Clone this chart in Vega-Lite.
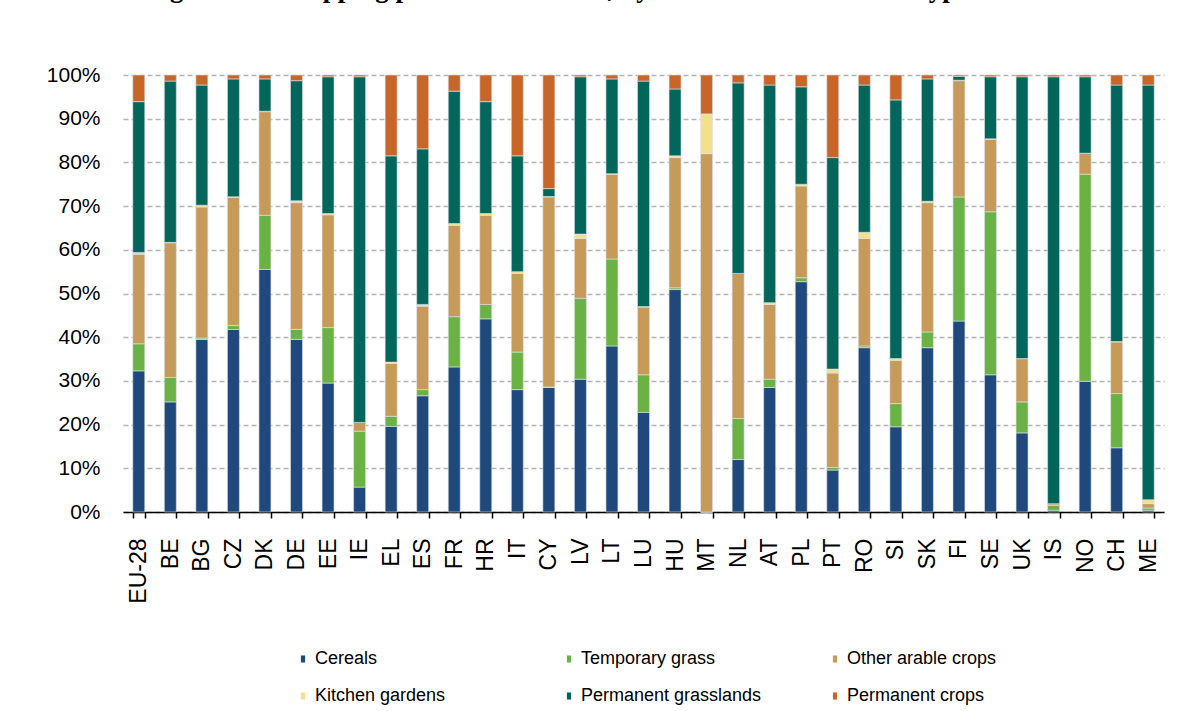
{
  "$schema": "https://vega.github.io/schema/vega-lite/v6.json",
  "autosize": {"type": "none"},
  "width": 1041,
  "height": 437,
  "padding": {"left": 123, "top": 75, "right": 24, "bottom": 199},
  "background": "white",
  "title": {
    "text": "Figure 2.9: Cropping patterns in the EU, by the main land use unit type",
    "anchor": "start",
    "frame": "group",
    "baseline": "alphabetic",
    "offset": 40,
    "dx": 23,
    "font": "Liberation Serif",
    "fontSize": 27,
    "fontWeight": "bold",
    "color": "black"
  },
  "data": {
    "values": [
      {"c":"EU-28","t":"Cereals","o":1,"v":32.3},{"c":"EU-28","t":"Temporary grass","o":2,"v":6.2},{"c":"EU-28","t":"Other arable crops","o":3,"v":20.5},{"c":"EU-28","t":"Kitchen gardens","o":4,"v":0.4},{"c":"EU-28","t":"Permanent grasslands","o":5,"v":34.5},{"c":"EU-28","t":"Permanent crops","o":6,"v":6.1},
      {"c":"BE","t":"Cereals","o":1,"v":25.2},{"c":"BE","t":"Temporary grass","o":2,"v":5.6},{"c":"BE","t":"Other arable crops","o":3,"v":30.8},{"c":"BE","t":"Kitchen gardens","o":4,"v":0.1},{"c":"BE","t":"Permanent grasslands","o":5,"v":36.9},{"c":"BE","t":"Permanent crops","o":6,"v":1.4},
      {"c":"BG","t":"Cereals","o":1,"v":39.5},{"c":"BG","t":"Temporary grass","o":2,"v":0.3},{"c":"BG","t":"Other arable crops","o":3,"v":30.0},{"c":"BG","t":"Kitchen gardens","o":4,"v":0.4},{"c":"BG","t":"Permanent grasslands","o":5,"v":27.5},{"c":"BG","t":"Permanent crops","o":6,"v":2.3},
      {"c":"CZ","t":"Cereals","o":1,"v":41.8},{"c":"CZ","t":"Temporary grass","o":2,"v":0.9},{"c":"CZ","t":"Other arable crops","o":3,"v":29.4},{"c":"CZ","t":"Kitchen gardens","o":4,"v":0.1},{"c":"CZ","t":"Permanent grasslands","o":5,"v":27.0},{"c":"CZ","t":"Permanent crops","o":6,"v":0.9},
      {"c":"DK","t":"Cereals","o":1,"v":55.5},{"c":"DK","t":"Temporary grass","o":2,"v":12.4},{"c":"DK","t":"Other arable crops","o":3,"v":23.7},{"c":"DK","t":"Kitchen gardens","o":4,"v":0.1},{"c":"DK","t":"Permanent grasslands","o":5,"v":7.4},{"c":"DK","t":"Permanent crops","o":6,"v":0.9},
      {"c":"DE","t":"Cereals","o":1,"v":39.5},{"c":"DE","t":"Temporary grass","o":2,"v":2.3},{"c":"DE","t":"Other arable crops","o":3,"v":29.0},{"c":"DE","t":"Kitchen gardens","o":4,"v":0.4},{"c":"DE","t":"Permanent grasslands","o":5,"v":27.5},{"c":"DE","t":"Permanent crops","o":6,"v":1.3},
      {"c":"EE","t":"Cereals","o":1,"v":29.5},{"c":"EE","t":"Temporary grass","o":2,"v":12.7},{"c":"EE","t":"Other arable crops","o":3,"v":25.8},{"c":"EE","t":"Kitchen gardens","o":4,"v":0.3},{"c":"EE","t":"Permanent grasslands","o":5,"v":31.3},{"c":"EE","t":"Permanent crops","o":6,"v":0.4},
      {"c":"IE","t":"Cereals","o":1,"v":5.7},{"c":"IE","t":"Temporary grass","o":2,"v":12.8},{"c":"IE","t":"Other arable crops","o":3,"v":2.0},{"c":"IE","t":"Kitchen gardens","o":4,"v":0.0},{"c":"IE","t":"Permanent grasslands","o":5,"v":79.1},{"c":"IE","t":"Permanent crops","o":6,"v":0.4},
      {"c":"EL","t":"Cereals","o":1,"v":19.6},{"c":"EL","t":"Temporary grass","o":2,"v":2.3},{"c":"EL","t":"Other arable crops","o":3,"v":12.1},{"c":"EL","t":"Kitchen gardens","o":4,"v":0.3},{"c":"EL","t":"Permanent grasslands","o":5,"v":47.2},{"c":"EL","t":"Permanent crops","o":6,"v":18.5},
      {"c":"ES","t":"Cereals","o":1,"v":26.6},{"c":"ES","t":"Temporary grass","o":2,"v":1.4},{"c":"ES","t":"Other arable crops","o":3,"v":19.1},{"c":"ES","t":"Kitchen gardens","o":4,"v":0.4},{"c":"ES","t":"Permanent grasslands","o":5,"v":35.6},{"c":"ES","t":"Permanent crops","o":6,"v":16.9},
      {"c":"FR","t":"Cereals","o":1,"v":33.2},{"c":"FR","t":"Temporary grass","o":2,"v":11.5},{"c":"FR","t":"Other arable crops","o":3,"v":20.9},{"c":"FR","t":"Kitchen gardens","o":4,"v":0.4},{"c":"FR","t":"Permanent grasslands","o":5,"v":30.3},{"c":"FR","t":"Permanent crops","o":6,"v":3.7},
      {"c":"HR","t":"Cereals","o":1,"v":44.2},{"c":"HR","t":"Temporary grass","o":2,"v":3.3},{"c":"HR","t":"Other arable crops","o":3,"v":20.4},{"c":"HR","t":"Kitchen gardens","o":4,"v":0.4},{"c":"HR","t":"Permanent grasslands","o":5,"v":25.6},{"c":"HR","t":"Permanent crops","o":6,"v":6.1},
      {"c":"IT","t":"Cereals","o":1,"v":28.0},{"c":"IT","t":"Temporary grass","o":2,"v":8.6},{"c":"IT","t":"Other arable crops","o":3,"v":18.0},{"c":"IT","t":"Kitchen gardens","o":4,"v":0.4},{"c":"IT","t":"Permanent grasslands","o":5,"v":26.5},{"c":"IT","t":"Permanent crops","o":6,"v":18.5},
      {"c":"CY","t":"Cereals","o":1,"v":28.5},{"c":"CY","t":"Temporary grass","o":2,"v":0.1},{"c":"CY","t":"Other arable crops","o":3,"v":43.5},{"c":"CY","t":"Kitchen gardens","o":4,"v":0.1},{"c":"CY","t":"Permanent grasslands","o":5,"v":1.8},{"c":"CY","t":"Permanent crops","o":6,"v":26.0},
      {"c":"LV","t":"Cereals","o":1,"v":30.4},{"c":"LV","t":"Temporary grass","o":2,"v":18.5},{"c":"LV","t":"Other arable crops","o":3,"v":13.7},{"c":"LV","t":"Kitchen gardens","o":4,"v":1.0},{"c":"LV","t":"Permanent grasslands","o":5,"v":36.0},{"c":"LV","t":"Permanent crops","o":6,"v":0.4},
      {"c":"LT","t":"Cereals","o":1,"v":38.0},{"c":"LT","t":"Temporary grass","o":2,"v":19.9},{"c":"LT","t":"Other arable crops","o":3,"v":19.4},{"c":"LT","t":"Kitchen gardens","o":4,"v":0.1},{"c":"LT","t":"Permanent grasslands","o":5,"v":21.7},{"c":"LT","t":"Permanent crops","o":6,"v":0.9},
      {"c":"LU","t":"Cereals","o":1,"v":22.8},{"c":"LU","t":"Temporary grass","o":2,"v":8.6},{"c":"LU","t":"Other arable crops","o":3,"v":15.5},{"c":"LU","t":"Kitchen gardens","o":4,"v":0.1},{"c":"LU","t":"Permanent grasslands","o":5,"v":51.6},{"c":"LU","t":"Permanent crops","o":6,"v":1.4},
      {"c":"HU","t":"Cereals","o":1,"v":50.9},{"c":"HU","t":"Temporary grass","o":2,"v":0.4},{"c":"HU","t":"Other arable crops","o":3,"v":29.8},{"c":"HU","t":"Kitchen gardens","o":4,"v":0.4},{"c":"HU","t":"Permanent grasslands","o":5,"v":15.3},{"c":"HU","t":"Permanent crops","o":6,"v":3.2},
      {"c":"MT","t":"Cereals","o":1,"v":0.0},{"c":"MT","t":"Temporary grass","o":2,"v":0.0},{"c":"MT","t":"Other arable crops","o":3,"v":82.0},{"c":"MT","t":"Kitchen gardens","o":4,"v":9.1},{"c":"MT","t":"Permanent grasslands","o":5,"v":0.0},{"c":"MT","t":"Permanent crops","o":6,"v":8.9},
      {"c":"NL","t":"Cereals","o":1,"v":12.0},{"c":"NL","t":"Temporary grass","o":2,"v":9.4},{"c":"NL","t":"Other arable crops","o":3,"v":33.2},{"c":"NL","t":"Kitchen gardens","o":4,"v":0.0},{"c":"NL","t":"Permanent grasslands","o":5,"v":43.6},{"c":"NL","t":"Permanent crops","o":6,"v":1.8},
      {"c":"AT","t":"Cereals","o":1,"v":28.5},{"c":"AT","t":"Temporary grass","o":2,"v":1.9},{"c":"AT","t":"Other arable crops","o":3,"v":17.1},{"c":"AT","t":"Kitchen gardens","o":4,"v":0.4},{"c":"AT","t":"Permanent grasslands","o":5,"v":49.8},{"c":"AT","t":"Permanent crops","o":6,"v":2.3},
      {"c":"PL","t":"Cereals","o":1,"v":52.7},{"c":"PL","t":"Temporary grass","o":2,"v":0.9},{"c":"PL","t":"Other arable crops","o":3,"v":21.0},{"c":"PL","t":"Kitchen gardens","o":4,"v":0.4},{"c":"PL","t":"Permanent grasslands","o":5,"v":22.3},{"c":"PL","t":"Permanent crops","o":6,"v":2.7},
      {"c":"PT","t":"Cereals","o":1,"v":9.6},{"c":"PT","t":"Temporary grass","o":2,"v":0.6},{"c":"PT","t":"Other arable crops","o":3,"v":21.6},{"c":"PT","t":"Kitchen gardens","o":4,"v":0.9},{"c":"PT","t":"Permanent grasslands","o":5,"v":48.4},{"c":"PT","t":"Permanent crops","o":6,"v":18.9},
      {"c":"RO","t":"Cereals","o":1,"v":37.6},{"c":"RO","t":"Temporary grass","o":2,"v":0.4},{"c":"RO","t":"Other arable crops","o":3,"v":24.6},{"c":"RO","t":"Kitchen gardens","o":4,"v":1.4},{"c":"RO","t":"Permanent grasslands","o":5,"v":33.7},{"c":"RO","t":"Permanent crops","o":6,"v":2.3},
      {"c":"SI","t":"Cereals","o":1,"v":19.5},{"c":"SI","t":"Temporary grass","o":2,"v":5.3},{"c":"SI","t":"Other arable crops","o":3,"v":9.9},{"c":"SI","t":"Kitchen gardens","o":4,"v":0.4},{"c":"SI","t":"Permanent grasslands","o":5,"v":59.2},{"c":"SI","t":"Permanent crops","o":6,"v":5.7},
      {"c":"SK","t":"Cereals","o":1,"v":37.6},{"c":"SK","t":"Temporary grass","o":2,"v":3.6},{"c":"SK","t":"Other arable crops","o":3,"v":29.6},{"c":"SK","t":"Kitchen gardens","o":4,"v":0.3},{"c":"SK","t":"Permanent grasslands","o":5,"v":28.0},{"c":"SK","t":"Permanent crops","o":6,"v":0.9},
      {"c":"FI","t":"Cereals","o":1,"v":43.7},{"c":"FI","t":"Temporary grass","o":2,"v":28.4},{"c":"FI","t":"Other arable crops","o":3,"v":26.6},{"c":"FI","t":"Kitchen gardens","o":4,"v":0.1},{"c":"FI","t":"Permanent grasslands","o":5,"v":0.9},{"c":"FI","t":"Permanent crops","o":6,"v":0.3},
      {"c":"SE","t":"Cereals","o":1,"v":31.4},{"c":"SE","t":"Temporary grass","o":2,"v":37.3},{"c":"SE","t":"Other arable crops","o":3,"v":16.6},{"c":"SE","t":"Kitchen gardens","o":4,"v":0.1},{"c":"SE","t":"Permanent grasslands","o":5,"v":14.2},{"c":"SE","t":"Permanent crops","o":6,"v":0.4},
      {"c":"UK","t":"Cereals","o":1,"v":18.1},{"c":"UK","t":"Temporary grass","o":2,"v":7.1},{"c":"UK","t":"Other arable crops","o":3,"v":9.9},{"c":"UK","t":"Kitchen gardens","o":4,"v":0.0},{"c":"UK","t":"Permanent grasslands","o":5,"v":64.5},{"c":"UK","t":"Permanent crops","o":6,"v":0.4},
      {"c":"IS","t":"Cereals","o":1,"v":0.4},{"c":"IS","t":"Temporary grass","o":2,"v":1.1},{"c":"IS","t":"Other arable crops","o":3,"v":0.4},{"c":"IS","t":"Kitchen gardens","o":4,"v":0.0},{"c":"IS","t":"Permanent grasslands","o":5,"v":97.7},{"c":"IS","t":"Permanent crops","o":6,"v":0.4},
      {"c":"NO","t":"Cereals","o":1,"v":29.9},{"c":"NO","t":"Temporary grass","o":2,"v":47.4},{"c":"NO","t":"Other arable crops","o":3,"v":4.8},{"c":"NO","t":"Kitchen gardens","o":4,"v":0.0},{"c":"NO","t":"Permanent grasslands","o":5,"v":17.5},{"c":"NO","t":"Permanent crops","o":6,"v":0.4},
      {"c":"CH","t":"Cereals","o":1,"v":14.7},{"c":"CH","t":"Temporary grass","o":2,"v":12.4},{"c":"CH","t":"Other arable crops","o":3,"v":11.8},{"c":"CH","t":"Kitchen gardens","o":4,"v":0.1},{"c":"CH","t":"Permanent grasslands","o":5,"v":58.7},{"c":"CH","t":"Permanent crops","o":6,"v":2.3},
      {"c":"ME","t":"Cereals","o":1,"v":0.4},{"c":"ME","t":"Temporary grass","o":2,"v":0.5},{"c":"ME","t":"Other arable crops","o":3,"v":1.0},{"c":"ME","t":"Kitchen gardens","o":4,"v":0.9},{"c":"ME","t":"Permanent grasslands","o":5,"v":94.9},{"c":"ME","t":"Permanent crops","o":6,"v":2.3}
    ]
  },
  "mark": {"type": "bar", "stroke": "#dfe3ea", "strokeWidth": 0.6},
  "encoding": {
    "x": {
      "field": "c",
      "type": "nominal",
      "sort": null,
      "scale": {"paddingInner": 0.62, "paddingOuter": 0.31},
      "axis": {
        "title": null,
        "labelAngle": -90,
        "labelAlign": "right",
        "labelBaseline": "middle",
        "labelFont": "Liberation Sans",
        "labelFontSize": 23,
        "labelColor": "black",
        "labelPadding": 20,
        "domainColor": "black",
        "domainWidth": 1.5,
        "tickColor": "black",
        "tickWidth": 1.5,
        "tickSize": 6,
        "tickBand": "extent",
        "grid": false
      }
    },
    "y": {
      "aggregate": "sum",
      "field": "v",
      "type": "quantitative",
      "stack": "normalize",
      "scale": {"domain": [0, 1], "nice": false},
      "axis": {
        "title": null,
        "format": ".0%",
        "values": [0, 0.1, 0.2, 0.3, 0.4, 0.5, 0.6, 0.7, 0.8, 0.9, 1],
        "labelFont": "Liberation Sans",
        "labelFontSize": 21,
        "labelColor": "black",
        "labelPadding": 23,
        "domain": false,
        "ticks": false,
        "grid": true,
        "gridColor": "#b4b4b4",
        "gridDash": [5, 3],
        "gridWidth": 1.5
      }
    },
    "color": {
      "field": "t",
      "type": "nominal",
      "sort": ["Cereals", "Temporary grass", "Other arable crops", "Kitchen gardens", "Permanent grasslands", "Permanent crops"],
      "scale": {
        "domain": ["Cereals", "Temporary grass", "Other arable crops", "Kitchen gardens", "Permanent grasslands", "Permanent crops"],
        "range": ["#1f497d", "#6bb244", "#c69a58", "#f2e08c", "#02665a", "#c8662a"]
      },
      "legend": {
        "title": null,
        "orient": "none",
        "direction": "horizontal",
        "columns": 3,
        "gridAlign": "all",
        "legendX": 171,
        "legendY": 575,
        "padding": 0,
        "columnPadding": 64,
        "rowPadding": 19,
        "symbolType": "M-0.3,-0.5H0.3V0.5H-0.3Z",
        "symbolSize": 200,
        "symbolStrokeWidth": 0,
        "labelOffset": 3,
        "labelFont": "Liberation Sans",
        "labelFontSize": 18,
        "labelColor": "black",
        "labelLimit": 300
      }
    },
    "order": {"field": "o", "type": "quantitative", "sort": "ascending"}
  },
  "config": {
    "view": {"stroke": null}
  }
}
